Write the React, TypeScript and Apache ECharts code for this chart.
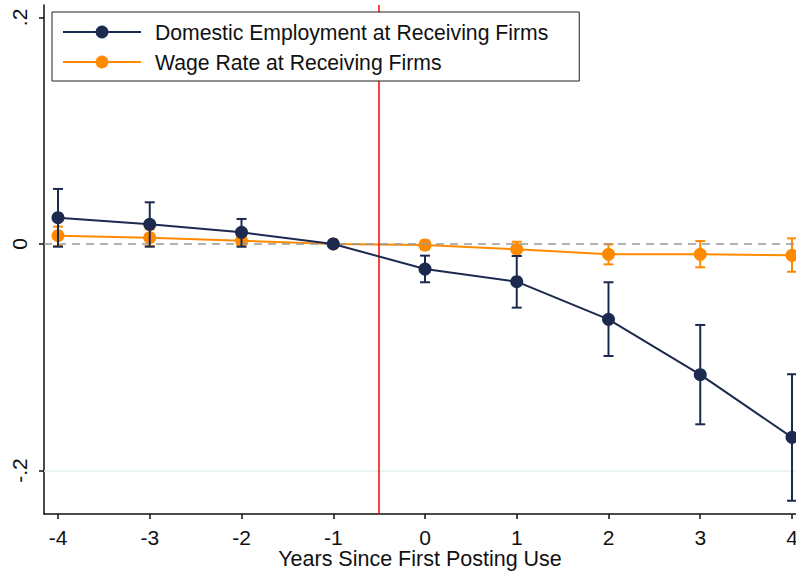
import React, { useEffect, useRef } from "react";
import * as echarts from "echarts";

const years = [-4, -3, -2, -1, 0, 1, 2, 3, 4];
const empCoef = [0.0232, 0.0174, 0.0103, 0, -0.0221, -0.0333, -0.0665, -0.1154, -0.1707];
const empLow = [-0.0024, -0.0024, -0.0024, 0, -0.0338, -0.0562, -0.0989, -0.1592, -0.2267];
const empHigh = [0.0486, 0.0368, 0.0221, 0, -0.0103, -0.0106, -0.0338, -0.0715, -0.115];
const wageCoef = [0.0073, 0.0056, 0.0029, 0, -0.0009, -0.0047, -0.0091, -0.0091, -0.01];
const wageLow = [-0.0018, -0.0018, -0.0009, 0, -0.0047, -0.0106, -0.018, -0.0206, -0.0245];
const wageHigh = [0.0153, 0.013, 0.0062, 0, 0.003, 0.002, -0.0003, 0.0026, 0.005];
const yTicks = [-0.2, 0, 0.2];
const yTickLabels = ["-.2", "0", ".2"];
const xTicks = [-4, -3, -2, -1, 0, 1, 2, 3, 4];
const eventLine = -0.5;
const empName = "Domestic Employment at Receiving Firms";
const wageName = "Wage Rate at Receiving Firms";
const xTitle = "Years Since First Posting Use";

const NAVY = "#1c2a50";
const ORANGE = "#ff8a00";
const FONT = "'Liberation Sans', Arial, Helvetica, sans-serif";

function errData(lo: number[], hi: number[]) {
  return years
    .map((x, i) => [x, lo[i], hi[i]])
    .filter((d) => d[1] !== d[2]);
}

function capRenderer(color: string) {
  return (params: any, api: any) => {
    const x = api.value(0);
    const pLo = api.coord([x, api.value(1)]);
    const pHi = api.coord([x, api.value(2)]);
    const w = 5;
    const style = { stroke: color, lineWidth: 2 };
    return {
      type: "group",
      children: [
        { type: "line", shape: { x1: pLo[0], y1: pLo[1], x2: pHi[0], y2: pHi[1] }, style },
        { type: "line", shape: { x1: pLo[0] - w, y1: pLo[1], x2: pLo[0] + w, y2: pLo[1] }, style },
        { type: "line", shape: { x1: pHi[0] - w, y1: pHi[1], x2: pHi[0] + w, y2: pHi[1] }, style },
      ],
    };
  };
}

export default function App() {
  const ref = useRef<HTMLDivElement>(null);
  useEffect(() => {
    if (!ref.current) return;
    const chart = echarts.init(ref.current, null, { renderer: "svg" });
    const option: any = {
      animation: false,
      backgroundColor: "#ffffff",
      textStyle: { fontFamily: FONT },
      grid: { left: 44, right: 0, top: 5, bottom: 63, containLabel: false, outerBoundsMode: "none" },
      legend: {
        data: [empName, wageName],
        orient: "vertical",
        left: 52,
        top: 12,
        padding: [9, 31, 8, 10],
        itemWidth: 78,
        itemHeight: 16,
        itemGap: 8,
        backgroundColor: "#ffffff",
        borderColor: "#222222",
        borderWidth: 1,
        borderRadius: 0,
        z: 20,
        textStyle: { fontSize: 21.2, color: "#111", fontFamily: FONT, lineHeight: 22, padding: [0, 0, 0, 9] },
      },
      xAxis: {
        type: "value",
        min: -4.1526,
        max: 4.0436,
        name: xTitle,
        nameLocation: "middle",
        nameGap: 34,
        nameMoveOverlap: false,
        nameTextStyle: { fontSize: 21.5, color: "#111", fontFamily: FONT },
        axisLine: { show: true, onZero: false, lineStyle: { color: "#111", width: 1.5 } },
        axisTick: { show: true, length: 5, customValues: xTicks, lineStyle: { color: "#111", width: 1.5 } },
        axisLabel: { customValues: xTicks, fontSize: 21, color: "#111", margin: 13, fontFamily: FONT, hideOverlap: false },
        splitLine: { show: false },
      },
      yAxis: {
        type: "value",
        min: -0.2384,
        max: 0.211,
        axisLine: { show: true, onZero: false, lineStyle: { color: "#111", width: 1.5 } },
        axisTick: { show: true, length: 5, customValues: yTicks, lineStyle: { color: "#111", width: 1.5 } },
        axisLabel: {
          customValues: yTicks,
          rotate: 90,
          fontSize: 21,
          color: "#111",
          margin: 14,
          fontFamily: FONT,
          formatter: (v: number) => {
            const i = yTicks.findIndex((t) => Math.abs(t - v) < 1e-9);
            return i >= 0 ? yTickLabels[i] : "";
          },
        },
        splitLine: { show: false },
      },
      series: [
        {
          type: "line",
          name: "ref",
          data: [],
          silent: true,
          z: 1,
          markLine: {
            silent: true,
            symbol: "none",
            label: { show: false },
            data: [
              { yAxis: -0.2, lineStyle: { color: "#e6eff1", width: 1.5, type: "solid" } },
              { yAxis: 0, lineStyle: { color: "#999999", width: 1.5, type: [8, 6] } },
              { xAxis: eventLine, lineStyle: { color: "#ff0000", width: 1.5, type: "solid" } },
            ],
          },
        },
        {
          type: "custom",
          name: "wageCI",
          z: 3,
          renderItem: capRenderer(ORANGE),
          data: errData(wageLow, wageHigh),
        },
        {
          type: "line",
          name: wageName,
          z: 4,
          data: years.map((x, i) => [x, wageCoef[i]]),
          symbol: "circle",
          symbolSize: 13,
          color: ORANGE,
          lineStyle: { color: ORANGE, width: 2 },
          itemStyle: { color: ORANGE },
        },
        {
          type: "custom",
          name: "empCI",
          z: 5,
          renderItem: capRenderer(NAVY),
          data: errData(empLow, empHigh),
        },
        {
          type: "line",
          name: empName,
          z: 6,
          data: years.map((x, i) => [x, empCoef[i]]),
          symbol: "circle",
          symbolSize: 13,
          color: NAVY,
          lineStyle: { color: NAVY, width: 2 },
          itemStyle: { color: NAVY },
        },
      ],
    };
    chart.setOption(option);
    return () => chart.dispose();
  }, []);
  return <div ref={ref} style={{ width: 796, height: 577, position: "absolute", left: 0, top: 0 }} />;
}
